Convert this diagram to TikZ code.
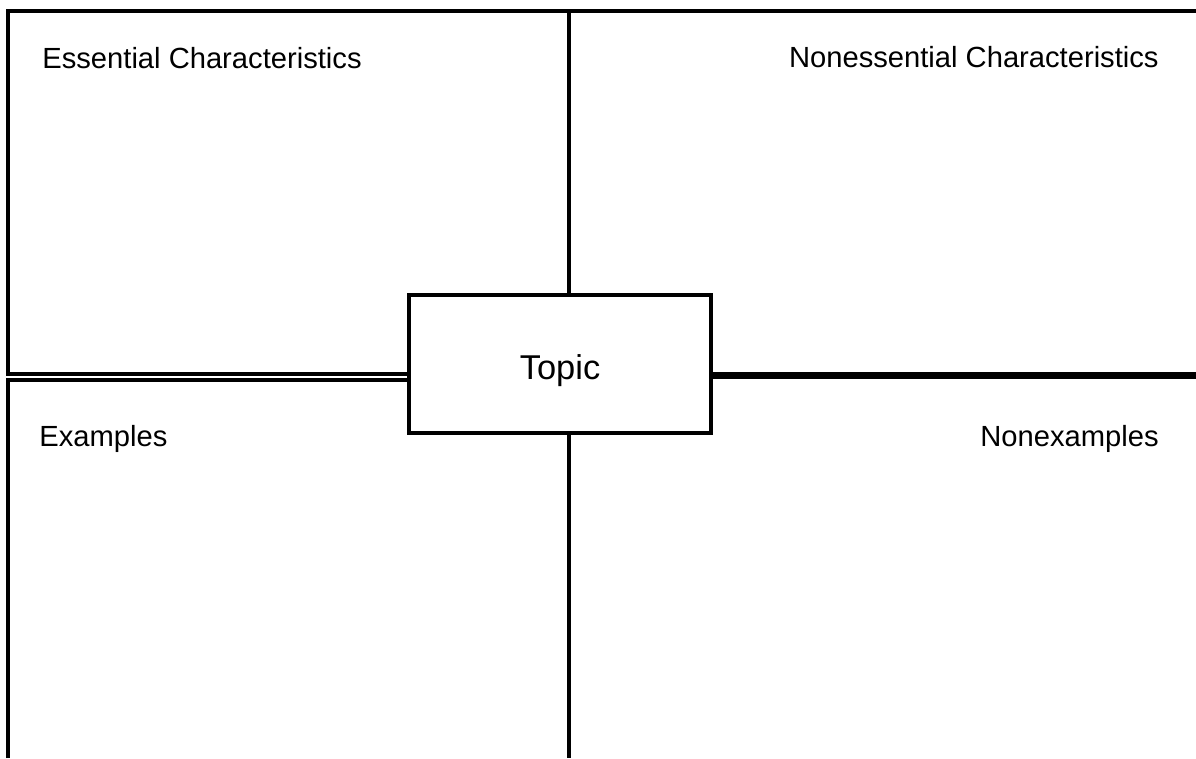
\documentclass[tikz,border=0pt]{standalone}
\usepackage{fontspec}
\setmainfont{Liberation Sans}
\usetikzlibrary{positioning}
\definecolor{lineBlack}{HTML}{000000}
\tikzset{
    frame/.style={
        draw=lineBlack,
        line width=2.3pt,
        line join=miter
    },
    heavy/.style={
        draw=lineBlack,
        line width=4pt
    },
    topicbox/.style={
        rectangle,
        draw=lineBlack,
        line width=2.3pt,
        fill=white,
        minimum width=6.04cm,
        minimum height=2.77cm,
        text height=0.6cm,
        text depth=0cm,
        font=\fontsize{19.6}{23}\selectfont
    },
    heading/.style={
        inner sep=0pt,
        font=\fontsize{16.6}{20}\selectfont
    }
}

\begin{document}
\begin{tikzpicture}[x=0.02cm, y=-0.02cm]
    \useasboundingbox (0,0) rectangle (1196,758);
    \node[topicbox] (topic) at (560,364) {Topic};

    \coordinate (topleft) at (8,11);
    \coordinate (topright) at (1196,11);
    \coordinate (bottomleft) at (8,758);
    \coordinate (midtop) at (569,11);
    \coordinate (midbottom) at (569,758);
    \coordinate (upperleft) at (8,374);
    \coordinate (lowerleft) at (8,380);
    \coordinate (rightend) at (1196,375.5);

    \draw[frame] (topright) -- (topleft) -- (upperleft) -- (topic.west |- upperleft);
    \draw[frame] (bottomleft) -- (lowerleft) -- (topic.west |- lowerleft);
    \draw[frame] (midtop) -- (midtop |- topic.north);
    \draw[frame] (midbottom |- topic.south) -- (midbottom);
    \draw[heavy] (topic.east |- rightend) -- (rightend);

    \node[heading, anchor=base west] (essential) at (42,68)
        {Essential Characteristics};
    \node[heading, anchor=base east] (nonessential) at (1159,67)
        {Nonessential Characteristics};
    \node[heading, anchor=base west] (examples) at (39,446) {Examples};
    \node[heading, anchor=base east] (nonexamples) at (1159,446) {Nonexamples};
\end{tikzpicture}
\end{document}
